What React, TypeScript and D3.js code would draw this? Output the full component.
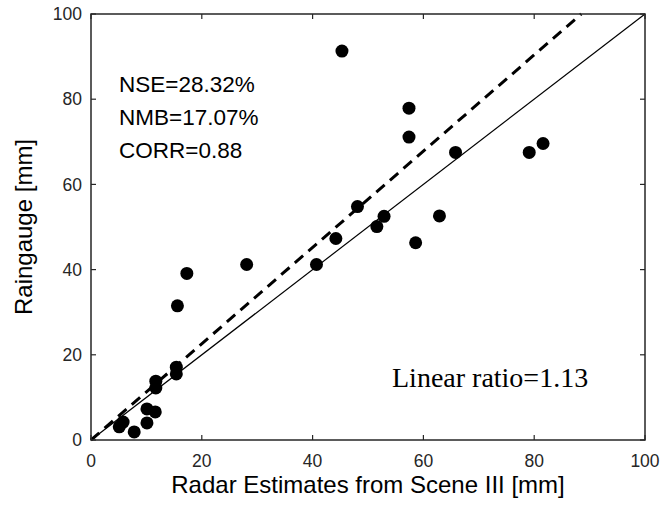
import React from "react";
import * as d3 from "d3";

const radar = [45.3, 57.4, 57.4, 65.8, 79.1, 81.6, 28.1, 17.3, 15.6, 40.7, 44.2, 48.1, 52.9, 51.6, 58.6, 62.9, 15.4, 15.4, 11.7, 11.7, 10.1, 11.6, 10.1, 5.8, 5.1, 7.8];
const gauge = [91.3, 77.9, 71.1, 67.5, 67.5, 69.6, 41.2, 39.1, 31.5, 41.2, 47.3, 54.8, 52.5, 50.1, 46.3, 52.6, 17.1, 15.5, 13.8, 12.2, 7.3, 6.6, 4.0, 4.2, 3.1, 1.9];
const ticks = [0, 20, 40, 60, 80, 100];
const stats = ["NSE=28.32%", "NMB=17.07%", "CORR=0.88"];
const ratio = 1.13;
const ratioLabel = "Linear ratio=1.13";

export default function App() {
  const W = 665, H = 509;
  const L = 91, R = 645, T = 14, B = 440;
  const x = d3.scaleLinear().domain([0, 100]).range([L, R]);
  const y = d3.scaleLinear().domain([0, 100]).range([B, T]);
  const line = d3.line<[number, number]>().x(d => x(d[0])).y(d => y(d[1]));
  const axisColor = "#262626";
  const font = "'Liberation Sans', Arial, sans-serif";
  const tl = 5;
  return (
    <svg width={W} height={H} style={{ position: "absolute", left: 0, top: 0, background: "#fff" }}>
      <path d={line([[0, 0], [100, 100]]) || ""} stroke="#000" strokeWidth={1.2} fill="none" />
      <path d={line([[0, 0], [100 / ratio, 100]]) || ""} stroke="#000" strokeWidth={3} strokeDasharray="11,7" fill="none" />
      {radar.map((v, i) => (
        <circle key={i} cx={x(v)} cy={y(gauge[i])} r={6.5} fill="#000" />
      ))}
      <rect x={L} y={T} width={R - L} height={B - T} fill="none" stroke={axisColor} strokeWidth={1.5} />
      {ticks.map(t => (
        <g key={"x" + t}>
          <line x1={x(t)} x2={x(t)} y1={B} y2={B - tl} stroke={axisColor} strokeWidth={1.2} />
          <line x1={x(t)} x2={x(t)} y1={T} y2={T + tl} stroke={axisColor} strokeWidth={1.2} />
          <text x={x(t)} y={B + 27} textAnchor="middle" fontFamily={font} fontSize={17.5} fill={axisColor}>{t}</text>
          <line y1={y(t)} y2={y(t)} x1={L} x2={L + tl} stroke={axisColor} strokeWidth={1.2} />
          <line y1={y(t)} y2={y(t)} x1={R} x2={R - tl} stroke={axisColor} strokeWidth={1.2} />
          <text x={L - 9} y={y(t)} dy="0.35em" textAnchor="end" fontFamily={font} fontSize={17.5} fill={axisColor}>{t}</text>
        </g>
      ))}
      <text x={(L + R) / 2} y={493} textAnchor="middle" fontFamily={font} fontSize={24} fill="#000">Radar Estimates from Scene III [mm]</text>
      <text transform={`translate(32,${(T + B) / 2}) rotate(-90)`} textAnchor="middle" fontFamily={font} fontSize={24} fill="#000">Raingauge [mm]</text>
      {stats.map((s, i) => (
        <text key={s} x={119} y={92 + i * 33} fontFamily={font} fontSize={22.5} fill="#000">{s}</text>
      ))}
      <text x={392} y={387} fontFamily="'Liberation Serif', 'Times New Roman', serif" fontSize={28} fill="#000">{ratioLabel}</text>
    </svg>
  );
}
